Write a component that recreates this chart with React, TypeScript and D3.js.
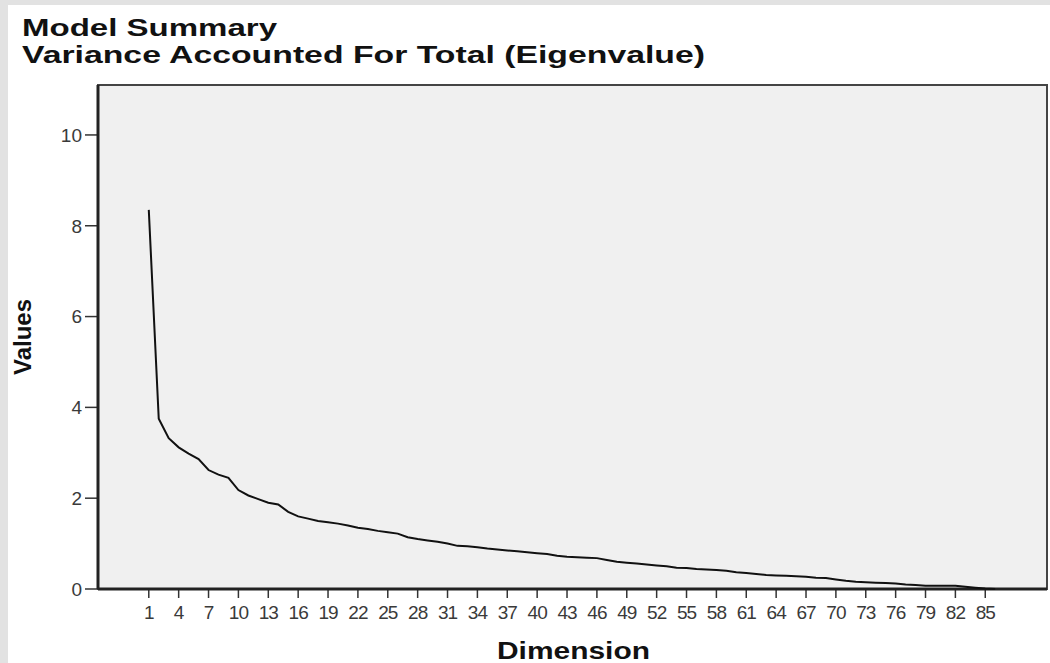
import React from "react";
import * as d3 from "d3";

const dimensions: number[] = d3.range(1, 87);
const eigenvalues: number[] = [
  8.35, 3.75, 3.32, 3.12, 2.98, 2.86, 2.62, 2.52, 2.45, 2.18,
  2.06, 1.98, 1.9, 1.86, 1.7, 1.6, 1.55, 1.5, 1.47, 1.44,
  1.4, 1.35, 1.32, 1.28, 1.25, 1.22, 1.14, 1.1, 1.07, 1.04,
  1.0, 0.95, 0.94, 0.92, 0.89, 0.87, 0.85, 0.83, 0.81, 0.79,
  0.77, 0.73, 0.71, 0.7, 0.69, 0.68, 0.64, 0.6, 0.58, 0.56,
  0.54, 0.52, 0.5, 0.47, 0.46, 0.44, 0.43, 0.42, 0.4, 0.37,
  0.35, 0.33, 0.31, 0.3, 0.29, 0.28, 0.27, 0.25, 0.24, 0.21,
  0.18, 0.16, 0.15, 0.14, 0.13, 0.12, 0.1, 0.09, 0.07, 0.07,
  0.07, 0.07, 0.05, 0.03, 0.01, 0.0,
];
const xTickValues: number[] = d3.range(1, 86, 3);
const yTickValues: number[] = [0, 2, 4, 6, 8, 10];
const titleLines: string[] = ["Model Summary", "Variance Accounted For Total (Eigenvalue)"];
const titleWidths: number[] = [255, 683];
const xTitle = "Dimension";
const yTitle = "Values";

export default function App() {
  const W = 1050;
  const H = 663;
  const left = 98, right = 1047, top = 85, bottom = 589;
  const x = d3.scaleLinear().domain([-4.1, 91.2]).range([left, right]);
  const y = d3.scaleLinear().domain([0, 11.1]).range([bottom, top]);
  const line = d3
    .line<number>()
    .x((_, i) => x(dimensions[i]))
    .y((d) => y(d));
  const font = "'Liberation Sans', Arial, sans-serif";
  return (
    <svg
      width={W}
      height={H}
      style={{ position: "fixed", left: 0, top: 0 }}
      viewBox={`0 0 ${W} ${H}`}
    >
      <rect x={0} y={0} width={W} height={H} fill="#e2e2e2" />
      <rect x={8} y={5} width={W - 8} height={H - 5} fill="#ffffff" />
      {titleLines.map((t, i) => (
        <text
          key={i}
          x={22}
          y={36 + i * 27}
          fontFamily={font}
          fontWeight="bold"
          fontSize={23}
          fill="#111"
          textLength={titleWidths[i]}
          lengthAdjust="spacingAndGlyphs"
        >
          {t}
        </text>
      ))}
      <rect x={left} y={top} width={right - left} height={bottom - top} fill="#f0f0f0" stroke="#444" strokeWidth={2} />
      {yTickValues.map((v) => (
        <g key={v}>
          <line x1={left - 13} x2={left} y1={y(v)} y2={y(v)} stroke="#333" strokeWidth={1.5} />
          <text x={left - 16} y={y(v)} dy="0.36em" textAnchor="end" fontFamily={font} fontSize={19} fill="#3a3a3a">
            {v}
          </text>
        </g>
      ))}
      {xTickValues.map((v) => (
        <g key={v}>
          <line x1={x(v)} x2={x(v)} y1={bottom} y2={bottom + 9} stroke="#333" strokeWidth={1.5} />
          <text x={x(v)} y={619} textAnchor="middle" fontFamily={font} fontSize={19} letterSpacing={-1} fill="#3a3a3a">
            {v}
          </text>
        </g>
      ))}
      <line x1={left} x2={left} y1={top} y2={bottom} stroke="#222" strokeWidth={3} />
      <line x1={left} x2={right} y1={bottom} y2={bottom} stroke="#222" strokeWidth={3} />
      <path d={line(eigenvalues) || ""} fill="none" stroke="#111" strokeWidth={2} />
      <text
        x={497}
        y={659}
        fontFamily={font}
        fontWeight="bold"
        fontSize={23}
        fill="#111"
        textLength={153}
        lengthAdjust="spacingAndGlyphs"
      >
        {xTitle}
      </text>
      <text
        transform={`translate(31, ${337}) rotate(-90)`}
        textAnchor="middle"
        fontFamily={font}
        fontWeight="bold"
        fontSize={24}
        fill="#111"
      >
        {yTitle}
      </text>
    </svg>
  );
}
